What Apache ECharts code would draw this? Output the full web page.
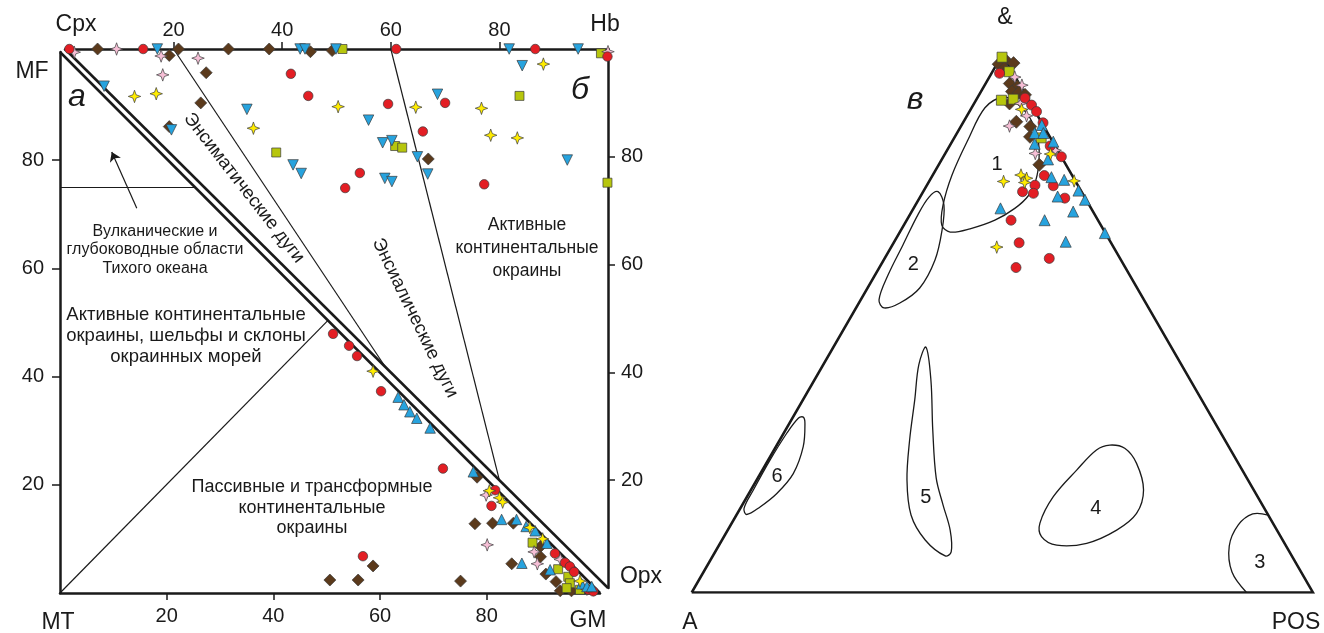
<!DOCTYPE html>
<html>
<head>
<meta charset="utf-8">
<script src="https://cdn.jsdelivr.net/npm/echarts@6/dist/echarts.min.js"></script>
<style>
html, body { margin: 0; padding: 0; background: #fff; }
#chart { width: 1324px; height: 633px; }
</style>
</head>
<body>
<div id="chart"></div>
<script>
// --- panel а: lower triangle MT–GM–MF (x = GM, y = MF)
const redLow = [[51.2,47.9],[54.2,45.7],[55.7,43.8],[60.2,37.3],[71.8,23.0],[81.6,19.0],[80.9,16.1],[56.8,6.8],[92.8,7.3],[94.7,5.6],[95.6,4.9],[96.4,3.9],[99.1,0.6],[100,0.3]]
const blueLow = [[63.4,36.2],[64.5,34.8],[65.6,33.5],[66.9,32.3],[69.4,30.5],[77.5,22.4],[82.8,13.6],[85.6,13.6],[87.4,12.3],[89.1,11.5],[91.3,9.2],[86.6,5.5],[91.9,4.3],[97.8,1.7],[98.8,1.2],[99.7,1.2]]
const brownLow = [[78.2,21.4],[77.8,12.8],[81.1,12.9],[85,12.9],[90.1,8.6],[90.1,6.7],[84.7,5.4],[91.1,3.5],[93,2.1],[93.8,0.4],[95.9,0.4],[75.1,2.2],[50.6,2.4],[58.7,5],[55.9,2.4]]
const yellowLow = [[58.7,41.0],[80.5,18.9],[82.4,17.6],[83,16.8],[88.1,12.1],[90.5,10],[97.5,2.2]]
const pinkLow = [[79.9,18.1],[80.1,8.9],[88.9,7.6],[89.5,5.4],[93.8,6.2],[98.8,0.7]]
const greenLow = [[88.6,9.3],[93.4,4.4],[95.3,3.0],[95.6,1.8],[97.5,0.6],[95,0.9]]

// --- panel б: upper triangle Cpx–Hb–Opx (x = Hb, y = right axis)
const redUp = [[0.8,100],[14.4,100],[61,100],[86.6,100],[99.9,98.6],[41.6,95.4],[44.8,91.3],[59.5,89.8],[70,90],[65.9,84.7],[54.3,77],[51.6,74.2],[77.2,74.9]]
const blueUp = [[17,100],[43.3,100],[44.2,100],[49.9,100],[81.8,100],[94.5,100],[7.2,93.1],[33.5,88.8],[42,78.5],[43.5,76.9],[84.2,96.9],[68.6,91.6],[55.9,86.8],[58.5,82.6],[60.2,83],[64.9,80],[58.9,76],[60.2,75.4],[66.8,76.8],[92.5,79.4],[19.6,85]]
const brownUp = [[6,100],[19.2,98.8],[20.9,100],[30.1,100],[37.6,100],[45.2,99.5],[49.2,99.7],[26,95.6],[25,90],[19.2,85.6],[66.9,79.6]]
const yellowUp = [[12.8,91.2],[16.8,91.7],[34.7,85.3],[50.3,89.3],[64.6,89.2],[76.7,89],[78.4,84],[83.3,83.5],[88.1,97.2]]
const pinkUp = [[1.7,99.4],[9.5,100],[17.7,98.7],[18,95.2],[24.5,98.3],[100,99.5]]
const greenUp = [[51.1,100],[98.7,99.2],[38.9,80.8],[60.8,82],[62.1,81.7],[83.7,91.3],[99.9,75.2]]

// --- panel в: ternary A–POS–& , values [POS, &] in %
const redTern = [[1.3,96.5],[7.7,91.9],[9.4,90.6],[10.8,89.4],[12.9,87.3],[16.2,83],[19,81],[18,77.5],[20.4,75.6],[17.4,75.7],[16,74.5],[17.9,74.2],[23.4,73.3],[16.8,69.2],[20.2,65],[26.5,62.1],[22,60.4]]
const blueTern = [[12.9,86.9],[12.5,85.4],[13.9,85.4],[13.5,83.4],[16.3,83.8],[17.1,80.5],[19.3,77.2],[21.6,76.7],[24.9,74.7],[22.1,73.6],[26,70.8],[26.8,73],[14,71.4],[22.2,69.2],[27.6,65.2],[33.1,66.8]]
const brownTern = [[0.3,98.2],[1,99],[2.6,98.4],[1.6,97.4],[3.9,94.6],[5.4,94],[5,93.1],[6.2,92.9],[7.4,92.5],[5.7,90.9],[8.5,87.5],[11.2,86.6],[12.1,84.7],[16.2,79.5]]
const yellowTern = [[8.2,89.8],[17,81.5],[12,76.4],[14.2,77.6],[15.4,77],[15.5,76.2],[23.3,76.5],[17,64.2]]
const pinkTern = [[4.1,95.8],[6,94.3],[7.5,90.9],[9.6,88.6],[7.8,86.7],[14.5,81.6],[17.4,82.2]]
const greenTern = [[0.2,99.5],[2.7,96.8],[4.1,91.5],[5.9,91.7],[14,84.5]]

// field boundaries
const linesLow = [[[0,100],[101.25,0]], [[0,75],[25.3,75]], [[0,0],[50.25,50.4]]]
const linesUp = [[[0,100],[100,0]], [[20,100],[59,41]], [[60,100],[80,20]]]
const arrowLow = [[14.4,71.1],[9.7,81.5]]

const ternFields = [
    { name: '1', label: [9.4,79.5], closed: true, pts: [[4.05,92.1],[2.15,90.1],[2.4,84.1],[3.1,77.6],[4.45,72],[6.1,68.3],[8.1,67],[11,67.6],[14.2,69.2],[16.3,71.4],[17.3,73.7],[17.05,76.7],[15.7,80.4],[13.7,84.1],[10.35,88.2],[6.4,91.2]] },
    { name: '2', label: [5.2,60.9], closed: true, pts: [[2.4,74.5],[1.45,73.5],[1.3,70.2],[1.7,64.6],[2.1,59],[2.95,54.4],[4.5,52.9],[6.6,53.8],[8.4,56.6],[8.26,61.8],[6.6,67.4],[4.6,72]] },
    { name: '3', label: [88.7,5.5], closed: false, pts: [[85.6,14.4],[83,14.6],[81.7,12.55],[82.2,8.64],[85.06,3.8],[89.3,0]] },
    { name: '4', label: [57.2,15.7], closed: true, pts: [[53.6,27.4],[51.9,26.5],[50.6,22.8],[49.3,17.8],[49.6,12.9],[51.1,10.4],[54.35,8.8],[59,9.15],[62.6,11.6],[64.25,14.7],[63.2,19.05],[59.6,24],[56.3,26.8]] },
    { name: '5', label: [28.9,17.6], closed: true, pts: [[14.9,45.6],[15.4,42.3],[18,35.8],[20.9,28.35],[24.2,20.9],[28.1,14.4],[32.7,9.76],[37.4,6.8],[38,7.53],[35.8,11.6],[32.3,16.3],[28.7,21.3],[23.7,30.2],[18.75,39.5]] },
    { name: '6', label: [3,21.5], closed: true, pts: [[1.66,32.6],[2.5,31.45],[4.4,27.1],[5.3,22.1],[4.5,18.4],[3.05,15.9],[1.6,14.5],[0.6,15.65],[0.4,19.05],[0.3,24.6],[0.5,29.6],[0.96,32.4]] },
]

const tickVals = [20, 40, 60, 80]
const font = '"Liberation Sans", Arial, sans-serif'
const ink = '#1a1a1a'

function tern(p) {
    return [p[0] + p[1] / 2, p[1] * 0.866]
}

const star = 'path://M0,-10L2.6,-2.6L10,0L2.6,2.6L0,10L-2.6,2.6L-10,0L-2.6,-2.6Z'
const styles = {
    red: { symbol: 'circle', color: '#e31e24', size: [9.5, 10] },
    blue: { symbol: 'triangle', color: '#27a3de', size: [10.5, 11] },
    brown: { symbol: 'diamond', color: '#5b3a1c', size: [12, 13] },
    yellow: { symbol: star, color: '#ffec00', size: [12.5, 12.5] },
    pink: { symbol: star, color: '#f6bfd6', size: [12.5, 12.5] },
    green: { symbol: 'rect', color: '#b7c60d', size: [9, 10] },
}

function scatter(kind, data, idx, rotate) {
    let s = styles[kind]
    return {
        type: 'scatter',
        xAxisIndex: idx,
        yAxisIndex: idx,
        data: data,
        symbol: s.symbol,
        symbolSize: s.size[idx === 2 ? 1 : 0],
        symbolRotate: rotate || 0,
        clip: false,
        silent: true,
        itemStyle: { color: s.color, borderColor: '#3b3b3b', borderWidth: 0.7, opacity: 1 },
    }
}

function axisStyle(extra) {
    return Object.assign({
        type: 'value',
        splitLine: { show: false },
        axisLine: { show: true, onZero: false, lineStyle: { color: ink, width: 2.5 } },
        axisTick: { show: true, length: 7, customValues: tickVals, lineStyle: { color: ink, width: 1.5 } },
        axisLabel: { show: true, customValues: tickVals, color: ink, fontSize: 20, fontFamily: font },
    }, extra)
}

function txt(text, x, y, size, extra) {
    return Object.assign({
        type: 'text',
        x: x, y: y,
        silent: true,
        style: Object.assign({ text: text, fill: ink, font: size + 'px ' + font, textAlign: 'center', textVerticalAlign: 'middle' }, (extra && extra.style) || {}),
    }, extra ? { rotation: extra.rotation || 0 } : {})
}

let chart = echarts.init(document.getElementById('chart'), null, { renderer: 'canvas' })

let series = [
    {
        type: 'lines', coordinateSystem: 'cartesian2d', xAxisIndex: 0, yAxisIndex: 0, silent: true,
        data: linesLow.slice(0, 1).map(c => ({ coords: c })),
        lineStyle: { color: ink, width: 2.5, opacity: 1 },
    },
    {
        type: 'lines', coordinateSystem: 'cartesian2d', xAxisIndex: 0, yAxisIndex: 0, silent: true,
        data: linesLow.slice(1).map(c => ({ coords: c })),
        lineStyle: { color: ink, width: 1.2, opacity: 1 },
    },
    {
        type: 'lines', coordinateSystem: 'cartesian2d', xAxisIndex: 0, yAxisIndex: 0, silent: true,
        data: [{ coords: arrowLow }],
        symbol: ['none', 'arrow'], symbolSize: 9,
        lineStyle: { color: ink, width: 1.2, opacity: 1 },
    },
    {
        type: 'lines', coordinateSystem: 'cartesian2d', xAxisIndex: 1, yAxisIndex: 1, silent: true,
        data: linesUp.slice(0, 1).map(c => ({ coords: c })),
        lineStyle: { color: ink, width: 2.5, opacity: 1 },
    },
    {
        type: 'lines', coordinateSystem: 'cartesian2d', xAxisIndex: 1, yAxisIndex: 1, silent: true,
        data: linesUp.slice(1).map(c => ({ coords: c })),
        lineStyle: { color: ink, width: 1.2, opacity: 1 },
    },
    {
        type: 'lines', coordinateSystem: 'cartesian2d', xAxisIndex: 2, yAxisIndex: 2, silent: true, polyline: true,
        data: [{ coords: [[0, 0], [100, 0], [0, 100], [0, 0]].map(tern) }],
        lineStyle: { color: ink, width: 2.5, opacity: 1, join: 'miter' },
    },
    {
        type: 'custom', xAxisIndex: 2, yAxisIndex: 2, silent: true, clip: false,
        data: ternFields.map(f => tern(f.label)),
        renderItem(params, api) {
            let f = ternFields[params.dataIndex]
            let pts = f.pts.map(p => api.coord(tern(p)))
            let c = api.coord(tern(f.label))
            return {
                type: 'group',
                children: [
                    {
                        type: f.closed ? 'polygon' : 'polyline',
                        shape: { points: pts, smooth: 0.35 },
                        style: { fill: 'none', stroke: ink, lineWidth: 1.3 },
                    },
                    {
                        type: 'text',
                        x: c[0], y: c[1],
                        style: { text: f.name, fill: ink, font: '20px ' + font, textAlign: 'center', textVerticalAlign: 'middle' },
                    },
                ],
            }
        },
    },
    scatter('brown', brownLow, 0), scatter('green', greenLow, 0), scatter('pink', pinkLow, 0),
    scatter('red', redLow, 0), scatter('blue', blueLow, 0), scatter('yellow', yellowLow, 0),
    scatter('brown', brownUp, 1), scatter('green', greenUp, 1), scatter('pink', pinkUp, 1),
    scatter('red', redUp, 1), scatter('blue', blueUp, 1, 180), scatter('yellow', yellowUp, 1),
    scatter('brown', brownTern.map(tern), 2), scatter('green', greenTern.map(tern), 2), scatter('pink', pinkTern.map(tern), 2),
    scatter('red', redTern.map(tern), 2), scatter('blue', blueTern.map(tern), 2), scatter('yellow', yellowTern.map(tern), 2),
]

chart.setOption({
    animation: false,
    backgroundColor: '#fff',
    grid: [
        { left: 60, top: 52, width: 540, height: 541 },
        { left: 65, top: 49, width: 543, height: 539 },
        { left: 691.7, top: 54.5, width: 621.3, height: 538 },
    ],
    xAxis: [
        axisStyle({ gridIndex: 0, min: 0, max: 101.25, position: 'bottom',
            axisLabel: { customValues: tickVals, color: ink, fontSize: 20, fontFamily: font, margin: 13 } }),
        axisStyle({ gridIndex: 1, min: 0, max: 100, position: 'top',
            axisLabel: { customValues: tickVals, color: ink, fontSize: 20, fontFamily: font, margin: 9 } }),
        { type: 'value', gridIndex: 2, min: 0, max: 100, show: false },
    ],
    yAxis: [
        axisStyle({ gridIndex: 0, min: 0, max: 100, position: 'left',
            axisTick: { show: true, length: 8, customValues: tickVals, lineStyle: { color: ink, width: 1.5 } },
            axisLabel: { customValues: tickVals, color: ink, fontSize: 20, fontFamily: font, margin: 16 } }),
        axisStyle({ gridIndex: 1, min: 0, max: 100, position: 'right',
            axisLabel: { customValues: tickVals, color: ink, fontSize: 20, fontFamily: font, margin: 13 } }),
        { type: 'value', gridIndex: 2, min: 0, max: 86.6, show: false },
    ],
    series: series,
    graphic: [
        txt('Cpx', 76, 25, 23), txt('Hb', 605, 25, 23), txt('MF', 32, 72, 23),
        txt('MT', 58, 623, 23), txt('GM', 588, 621, 23), txt('Opx', 641, 577, 23),
        txt('а', 77, 97, 32, { style: { font: 'italic 32px ' + font } }),
        txt('б', 580, 90, 32, { style: { font: 'italic 32px ' + font } }),
        txt('Вулканические и\nглубоководные области\nТихого океана', 155, 250, 16, { style: { lineHeight: 18.5 } }),
        txt('Активные континентальные\nокраины, шельфы и склоны\nокраинных морей', 186, 336, 18.5, { style: { lineHeight: 21 } }),
        txt('Пассивные и трансформные\nконтинентальные\nокраины', 312, 508, 18, { style: { lineHeight: 20.5 } }),
        txt('Активные\nконтинентальные\nокраины', 527, 248, 17.5, { style: { lineHeight: 23 } }),
        txt('Энсиматические дуги', 244, 188, 18.5, { rotation: -0.91 }),
        txt('Энсиалические дуги', 415, 318, 18.5, { rotation: -1.12 }),
        txt('&', 1005, 18, 23), txt('A', 690, 623, 23), txt('POS', 1296, 623, 23),
        txt('в', 915, 100, 32, { style: { font: 'italic 32px ' + font } }),
    ],
})
</script>
</body>
</html>
